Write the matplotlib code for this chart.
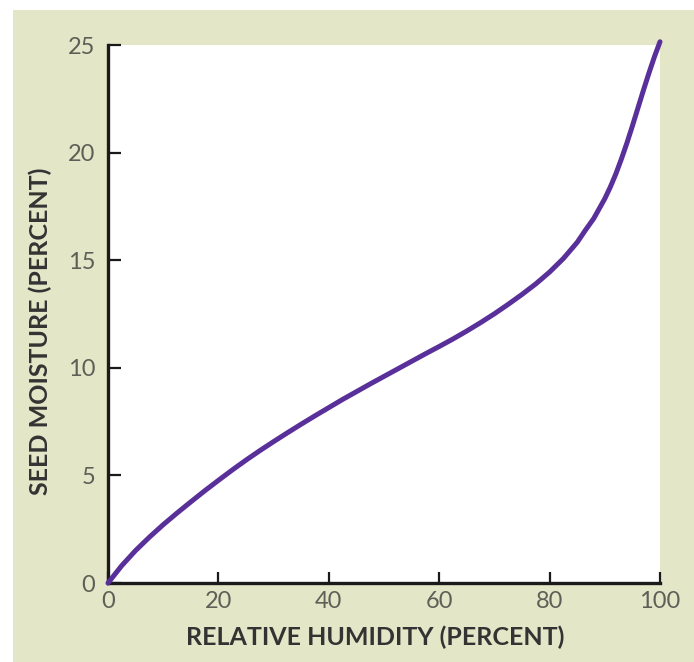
import matplotlib
matplotlib.use("Agg")
import matplotlib.pyplot as plt
from matplotlib.patches import Rectangle

# Data
humidity = [0, 2.5, 5, 7.5, 10, 12.5, 15, 17.5, 20, 22.5, 25, 27.5, 30, 32.5,
            35, 37.5, 40, 42.5, 45, 47.5, 50, 52.5, 55, 57.5, 60, 62.5, 65,
            67.5, 70, 72.5, 75, 77.5, 80, 82.5, 85, 86.5, 88, 89, 90, 91, 92,
            93, 94, 95, 96, 97, 98, 99, 100]
moisture = [0, 0.81, 1.51, 2.13, 2.71, 3.25, 3.77, 4.28, 4.77, 5.25, 5.71,
            6.15, 6.57, 6.98, 7.38, 7.77, 8.15, 8.53, 8.89, 9.25, 9.6, 9.95,
            10.3, 10.65, 10.99, 11.34, 11.71, 12.1, 12.51, 12.95, 13.41, 13.9,
            14.45, 15.08, 15.83, 16.4, 16.94, 17.4, 17.86, 18.4, 19.01, 19.7,
            20.44, 21.24, 22.07, 22.9, 23.7, 24.46, 25.15]
x_ticks = [0, 20, 40, 60, 80, 100]
y_ticks = [0, 5, 10, 15, 20, 25]
x_label = "RELATIVE HUMIDITY (PERCENT)"
y_label = "SEED MOISTURE (PERCENT)"

W, H = 694, 662
fig = plt.figure(figsize=(W / 100, H / 100), dpi=100, facecolor="white")
bg = "#e3e6c7"
fig.patches.append(Rectangle((13 / W, 0), 1 - 13 / W, 1 - 10 / H,
                             transform=fig.transFigure, facecolor=bg,
                             edgecolor="none", zorder=-10))

ax = fig.add_axes([108 / W, 1 - 583 / H, (660 - 108) / W, (583 - 45) / H])
ax.set_zorder(1)
ax.set_facecolor("white")
ax.plot(humidity, moisture, color="#59309a", lw=3.6, solid_capstyle="round",
        solid_joinstyle="round", clip_on=False, zorder=3)
ax.set_xlim(0, 100)
ax.set_ylim(0, 25)
ax.set_xticks(x_ticks)
ax.set_yticks(y_ticks)
for s in ["top", "right"]:
    ax.spines[s].set_visible(False)
for s in ["left", "bottom"]:
    ax.spines[s].set_linewidth(2.4)
    ax.spines[s].set_color("#1a1a1a")
ax.tick_params(axis="both", direction="in", width=1.6, color="#1a1a1a",
               labelsize=17, labelcolor="#5e5f57")
ax.tick_params(axis="x", length=8, pad=6)
ax.tick_params(axis="y", length=9, pad=9)
for lbl in ax.get_xticklabels() + ax.get_yticklabels():
    lbl.set_family(["Lato", "DejaVu Sans"])
    lbl.set_fontweight("normal")
ax.set_xlabel(x_label, fontsize=18, color="#333333", fontweight="bold",
              family=["Lato", "DejaVu Sans"])
ax.set_ylabel(y_label, fontsize=18, color="#333333", fontweight="bold",
              family=["Lato", "DejaVu Sans"])
ax.xaxis.set_label_coords((375 - 108) / (660 - 108), -(637 - 583) / (583 - 45))
ax.yaxis.set_label_coords(-(108 - 40) / (660 - 108), (583 - 331) / (583 - 45))
ax.xaxis.label.set_va("center")
ax.yaxis.label.set_va("center")

fig.savefig("out.png", dpi=100, facecolor="white")
